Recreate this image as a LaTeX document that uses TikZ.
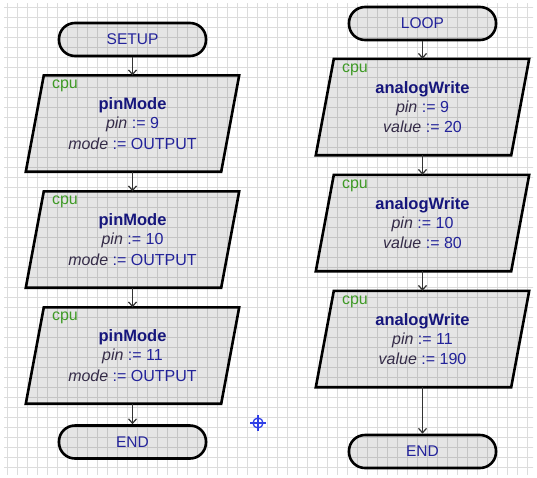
\documentclass[tikz,border=0pt]{standalone}
\usepackage{fontspec}
\setmainfont{Liberation Sans}
\usetikzlibrary{arrows.meta,calc}
\definecolor{gridc}{HTML}{DCDCDC}
\definecolor{navy}{HTML}{23239A}
\definecolor{titlec}{HTML}{16167C}
\definecolor{varc}{HTML}{352C48}
\definecolor{cpuc}{HTML}{3F9A26}
\definecolor{flowc}{HTML}{333333}
\definecolor{crossc}{HTML}{2F3FE6}
\tikzset{
  term/.style={draw=black, line width=2.6, rounded corners=16, fill=black, fill opacity=0.1, text opacity=1,
    minimum width=147, minimum height=33, inner sep=0, text=navy, font=\fontsize{15.5}{18}\selectfont},
  parabox/.style={minimum width=213, minimum height=96, inner sep=0},
  paraline/.style={draw=black, line width=2.6, line join=miter, fill=black, fill opacity=0.1},
  cpulbl/.style={anchor=west, inner sep=0, text=cpuc, font=\fontsize{16}{18}\selectfont},
  titlelbl/.style={inner sep=0, text=titlec, font=\fontsize{16.5}{18}\selectfont\bfseries},
  linelbl/.style={inner sep=0, text=navy, font=\fontsize{16}{18}\selectfont},
  flow/.style={draw=flowc, line width=1.2, -{Straight Barb[length=4.5pt,width=8pt]}},
}
\begin{document}
\begin{tikzpicture}[x=1pt,y=-1pt]
\useasboundingbox (0,0) rectangle (537,477);
% grid
\begin{scope}
\clip (4,3) rectangle (533,474);
\foreach \gx in {7,17,...,537} \draw[gridc, line width=0.8] (\gx,0) -- (\gx,477);
\foreach \gy in {7,17,...,477} \draw[gridc, line width=0.8] (0,\gy) -- (537,\gy);
\end{scope}

% ---------- left column ----------
\node[term] (setup) at (132.5,39.5) {SETUP};
\node[parabox] (p1) at (132.5,123.5) {};
\node[parabox] (p2) at (132.5,239.5) {};
\node[parabox] (p3) at (132.5,355.5) {};
\node[term] (end1) at (132.5,442) {END};

% ---------- right column ----------
\node[term] (loop) at (422.5,23.5) {LOOP};
\node[parabox] (q1) at (422.5,107) {};
\node[parabox] (q2) at (422.5,223) {};
\node[parabox] (q3) at (422.5,339) {};
\node[term] (end2) at (422.5,451.5) {END};

% parallelograms
\foreach \p in {p1,p2,p3,q1,q2,q3}{
  \path[paraline] ([xshift=18]\p.north west) -- (\p.north east) -- ([xshift=-18]\p.south east) -- (\p.south west) -- cycle;
}

% texts left
\node[cpulbl] (p1c) at ([xshift=26,yshift=-11]p1.north west) {cpu};
\node[titlelbl] (p1t) at ([yshift=-30]p1.north) {pinMode};
\node[linelbl] (p1a) at ([yshift=-49.5]p1.north) {{\color{varc}\itshape pin} := 9};
\node[linelbl] (p1b) at ([yshift=-68]p1.north) {{\color{varc}\itshape mode} := OUTPUT};

\node[cpulbl] (p2c) at ([xshift=26,yshift=-11]p2.north west) {cpu};
\node[titlelbl] (p2t) at ([yshift=-30]p2.north) {pinMode};
\node[linelbl] (p2a) at ([yshift=-49.5]p2.north) {{\color{varc}\itshape pin} := 10};
\node[linelbl] (p2b) at ([yshift=-68]p2.north) {{\color{varc}\itshape mode} := OUTPUT};

\node[cpulbl] (p3c) at ([xshift=26,yshift=-11]p3.north west) {cpu};
\node[titlelbl] (p3t) at ([yshift=-30]p3.north) {pinMode};
\node[linelbl] (p3a) at ([yshift=-49.5]p3.north) {{\color{varc}\itshape pin} := 11};
\node[linelbl] (p3b) at ([yshift=-68]p3.north) {{\color{varc}\itshape mode} := OUTPUT};

% texts right
\node[cpulbl] (q1c) at ([xshift=26,yshift=-11]q1.north west) {cpu};
\node[titlelbl] (q1t) at ([yshift=-30]q1.north) {analogWrite};
\node[linelbl] (q1a) at ([yshift=-49.5]q1.north) {{\color{varc}\itshape pin} := 9};
\node[linelbl] (q1b) at ([yshift=-68]q1.north) {{\color{varc}\itshape value} := 20};

\node[cpulbl] (q2c) at ([xshift=26,yshift=-11]q2.north west) {cpu};
\node[titlelbl] (q2t) at ([yshift=-30]q2.north) {analogWrite};
\node[linelbl] (q2a) at ([yshift=-49.5]q2.north) {{\color{varc}\itshape pin} := 10};
\node[linelbl] (q2b) at ([yshift=-68]q2.north) {{\color{varc}\itshape value} := 80};

\node[cpulbl] (q3c) at ([xshift=26,yshift=-11]q3.north west) {cpu};
\node[titlelbl] (q3t) at ([yshift=-30]q3.north) {analogWrite};
\node[linelbl] (q3a) at ([yshift=-49.5]q3.north) {{\color{varc}\itshape pin} := 11};
\node[linelbl] (q3b) at ([yshift=-68]q3.north) {{\color{varc}\itshape value} := 190};

% connectors
\draw[flow] (setup) -- (p1);
\draw[flow] (p1) -- (p2);
\draw[flow] (p2) -- (p3);
\draw[flow] (p3) -- (end1);
\draw[flow] (loop) -- (q1);
\draw[flow] (q1) -- (q2);
\draw[flow] (q2) -- (q3);
\draw[flow] (q3) -- (end2);

% crosshair marker
\node[circle, draw=crossc, line width=1.3, minimum size=10, inner sep=0] (cross) at (258,423) {};
\draw[crossc, line width=1.3] ([yshift=2]cross.north) -- ([yshift=-2]cross.south);
\draw[crossc, line width=1.3] ([xshift=-2]cross.west) -- ([xshift=2]cross.east);
\end{tikzpicture}
\end{document}
